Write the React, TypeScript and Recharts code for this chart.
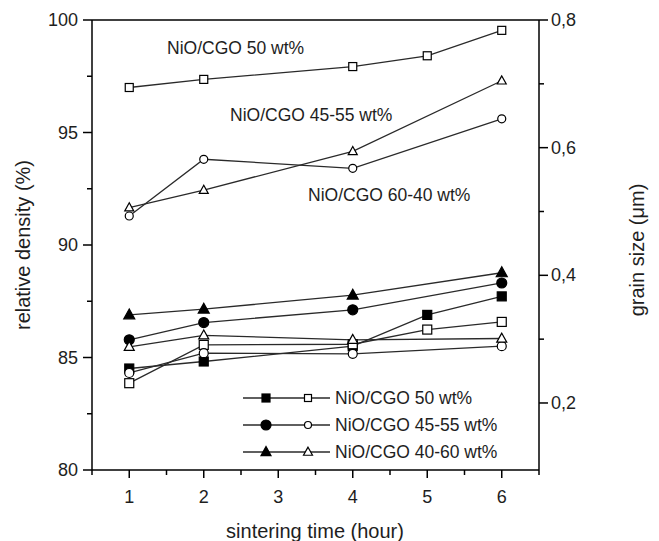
import React from 'react';
import { LineChart, Line, XAxis, YAxis, ReferenceLine, Legend } from 'recharts';

const FONT = '"Liberation Sans", Arial, Helvetica, sans-serif';
const INK = '#1e1e1e';
const LINE = '#2a2a2a';

// sintering time (hour)
const hoursFive = [1, 2, 4, 5, 6];
const hoursFour = [1, 2, 4, 6];

// relative density (%) - left axis
const density50 = [97.0, 97.36, 97.93, 98.41, 99.54];
const density4555 = [91.66, 92.44, 94.16, 97.3];
const density6040 = [91.29, 93.81, 93.41, 95.61];

// grain size (um) - right axis
const grainFilled50 = [0.254, 0.265, 0.289, 0.338, 0.367];
const grainOpen50 = [0.231, 0.291, 0.292, 0.315, 0.327];
const grainFilled4555 = [0.299, 0.326, 0.346, 0.388];
const grainOpen4555 = [0.247, 0.278, 0.277, 0.289];
const grainFilled4060 = [0.338, 0.347, 0.369, 0.404];
const grainOpen4060 = [0.288, 0.306, 0.299, 0.301];

// axes
const xTicks = [0.5, 1, 1.5, 2, 2.5, 3, 3.5, 4, 4.5, 5, 5.5, 6, 6.5];
const xMajor = [1, 2, 3, 4, 5, 6];
const leftTicks = [80, 82.5, 85, 87.5, 90, 92.5, 95, 97.5, 100];
const leftMajor = [80, 85, 90, 95, 100];
const rightTicks = [0.2, 0.3, 0.4, 0.5, 0.6, 0.7, 0.8];
const rightMajor = [0.2, 0.4, 0.6, 0.8];

const legendLabels = ['NiO/CGO 50 wt%', 'NiO/CGO 45-55 wt%', 'NiO/CGO 40-60 wt%'];
const annotationLabels = ['NiO/CGO 50 wt%', 'NiO/CGO 45-55 wt%', 'NiO/CGO 60-40 wt%'];

const toPoints = (xs: number[], ys: number[]) => xs.map((t, i) => ({ t, v: ys[i] }));
const isIn = (arr: number[], v: number) => arr.some((a) => Math.abs(a - v) < 1e-6);

type Shape = 'square' | 'circle' | 'triangle';

const marker = (shape: Shape, filled: boolean, size: number, cx: number, cy: number, key?: any) => {
  const fill = filled ? '#000' : '#fff';
  const sw = 1.2;
  if (shape === 'square') {
    return <rect key={key} x={cx - size / 2} y={cy - size / 2} width={size} height={size} fill={fill} stroke="#000" strokeWidth={sw} />;
  }
  if (shape === 'circle') {
    return <circle key={key} cx={cx} cy={cy} r={size / 2} fill={fill} stroke="#000" strokeWidth={sw} />;
  }
  const h = size * 0.9;
  const pts = `${cx},${cy - h * 0.6} ${cx - size / 2},${cy + h * 0.4} ${cx + size / 2},${cy + h * 0.4}`;
  return <polygon key={key} points={pts} fill={fill} stroke="#000" strokeWidth={sw} strokeLinejoin="miter" />;
};

const makeDot = (shape: Shape, filled: boolean, size: number, name: string) => (props: any) => {
  const { cx, cy, index } = props;
  if (cx == null || cy == null) return <g key={`${name}-${index}`} />;
  return marker(shape, filled, size, cx, cy, `${name}-${index}`);
};

const LeftTick = (props: any) => {
  const { x, y, payload } = props;
  const v = payload.value;
  const major = isIn(leftMajor, v);
  return (
    <g>
      <line x1={x - (major ? 9 : 5)} x2={x} y1={y} y2={y} stroke="#000" strokeWidth={1.5} />
      {major && (
        <text x={x - 14} y={y} textAnchor="end" dominantBaseline="central" fontSize={18} fill={INK} fontFamily={FONT}>
          {v}
        </text>
      )}
    </g>
  );
};

const RightTick = (props: any) => {
  const { x, y, payload } = props;
  const v = payload.value;
  const major = isIn(rightMajor, v);
  return (
    <g>
      <line x1={x} x2={x + (major ? 9 : 5)} y1={y} y2={y} stroke="#000" strokeWidth={1.5} />
      {major && (
        <text x={x + 12} y={y} textAnchor="start" dominantBaseline="central" fontSize={18} fill={INK} fontFamily={FONT}>
          {v.toFixed(1).replace('.', ',')}
        </text>
      )}
    </g>
  );
};

const BottomTick = (props: any) => {
  const { x, y, payload } = props;
  const v = payload.value;
  const major = isIn(xMajor, v);
  return (
    <g>
      <line x1={x} x2={x} y1={y} y2={y + (major ? 8 : 5)} stroke="#000" strokeWidth={1.5} />
      {major && (
        <text x={x} y={y + 27} textAnchor="middle" dominantBaseline="central" fontSize={18} fill={INK} fontFamily={FONT}>
          {v}
        </text>
      )}
    </g>
  );
};

const legendRows: { shape: Shape; fs: number; os: number }[] = [
  { shape: 'square', fs: 8, os: 7 },
  { shape: 'circle', fs: 10, os: 7 },
  { shape: 'triangle', fs: 10, os: 9 },
];

const Overlay = () => {
  const rowsY = [398, 425, 452];
  return (
    <svg width={659} height={541} style={{ position: 'absolute', left: 0, top: 0 }}>
      {legendRows.map((r, i) => {
        const y = rowsY[i];
        return (
          <g key={i}>
            <line x1={243} x2={330} y1={y} y2={y} stroke={LINE} strokeWidth={1.3} />
            {marker(r.shape, true, r.fs, 266, y)}
            {marker(r.shape, false, r.os, 308, y)}
            <text x={335} y={y} dominantBaseline="central" fontSize={17.5} fill={INK} fontFamily={FONT}>
              {legendLabels[i]}
            </text>
          </g>
        );
      })}
      <text x={167} y={48} dominantBaseline="central" fontSize={17.5} fill={INK} fontFamily={FONT}>
        {annotationLabels[0]}
      </text>
      <text x={230} y={115} dominantBaseline="central" fontSize={17.5} fill={INK} fontFamily={FONT}>
        {annotationLabels[1]}
      </text>
      <text x={308} y={195} dominantBaseline="central" fontSize={17.5} fill={INK} fontFamily={FONT}>
        {annotationLabels[2]}
      </text>
      <text x={315} y={531} textAnchor="middle" dominantBaseline="central" fontSize={20} fill={INK} fontFamily={FONT}>
        sintering time (hour)
      </text>
      <text
        x={23}
        y={245}
        textAnchor="middle"
        dominantBaseline="central"
        fontSize={20}
        fill={INK}
        fontFamily={FONT}
        transform="rotate(-90 23 245)"
      >
        relative density (%)
      </text>
      <text
        x={637}
        y={250}
        textAnchor="middle"
        dominantBaseline="central"
        fontSize={20}
        fill={INK}
        fontFamily={FONT}
        transform="rotate(-90 637 250)"
      >
        grain size (μm)
      </text>
    </svg>
  );
};

const series = [
  { name: 'd50', axis: 'left', data: toPoints(hoursFive, density50), shape: 'square' as Shape, filled: false, size: 8 },
  { name: 'd4555', axis: 'left', data: toPoints(hoursFour, density4555), shape: 'triangle' as Shape, filled: false, size: 9 },
  { name: 'd6040', axis: 'left', data: toPoints(hoursFour, density6040), shape: 'circle' as Shape, filled: false, size: 8 },
  { name: 'gf50', axis: 'right', data: toPoints(hoursFive, grainFilled50), shape: 'square' as Shape, filled: true, size: 9 },
  { name: 'go50', axis: 'right', data: toPoints(hoursFive, grainOpen50), shape: 'square' as Shape, filled: false, size: 9 },
  { name: 'gf4555', axis: 'right', data: toPoints(hoursFour, grainFilled4555), shape: 'circle' as Shape, filled: true, size: 10 },
  { name: 'go4555', axis: 'right', data: toPoints(hoursFour, grainOpen4555), shape: 'circle' as Shape, filled: false, size: 9 },
  { name: 'gf4060', axis: 'right', data: toPoints(hoursFour, grainFilled4060), shape: 'triangle' as Shape, filled: true, size: 11 },
  { name: 'go4060', axis: 'right', data: toPoints(hoursFour, grainOpen4060), shape: 'triangle' as Shape, filled: false, size: 10 },
];

export default function App() {
  return (
    <div style={{ position: 'absolute', left: 0, top: 0, width: 659, height: 541, background: '#fff' }}>
      <LineChart width={659} height={541} margin={{ top: 20, right: 0, bottom: 0, left: 0 }}>
        <XAxis
          dataKey="t"
          type="number"
          domain={[0.5, 6.5]}
          ticks={xTicks}
          allowDataOverflow
          height={71}
          tickSize={0}
          tickMargin={0}
          tickLine={false}
          axisLine={{ stroke: '#000', strokeWidth: 1.5 }}
          tick={<BottomTick />}
          interval={0}
        />
        <YAxis
          yAxisId="left"
          type="number"
          domain={[80, 100]}
          ticks={leftTicks}
          allowDataOverflow
          width={92}
          tickSize={0}
          tickMargin={0}
          tickLine={false}
          axisLine={{ stroke: '#000', strokeWidth: 1.5 }}
          tick={<LeftTick />}
          interval={0}
        />
        <YAxis
          yAxisId="right"
          orientation="right"
          type="number"
          domain={[0.095, 0.8]}
          ticks={rightTicks}
          allowDataOverflow
          width={120}
          tickSize={0}
          tickMargin={0}
          tickLine={false}
          axisLine={{ stroke: '#000', strokeWidth: 1.5 }}
          tick={<RightTick />}
          interval={0}
        />
        <ReferenceLine yAxisId="left" y={100} stroke="#000" strokeWidth={1.5} />
        {series.map((s) => (
          <Line
            key={s.name}
            yAxisId={s.axis}
            data={s.data}
            dataKey="v"
            type="linear"
            stroke={LINE}
            strokeWidth={1.3}
            dot={makeDot(s.shape, s.filled, s.size, s.name)}
            activeDot={false}
            isAnimationActive={false}
            legendType="none"
          />
        ))}
        <Legend
          layout="horizontal"
          verticalAlign="middle"
          align="center"
          wrapperStyle={{ left: 0, top: 0, width: 659, height: 541, pointerEvents: 'none' }}
          content={() => <Overlay />}
        />
      </LineChart>
    </div>
  );
}
